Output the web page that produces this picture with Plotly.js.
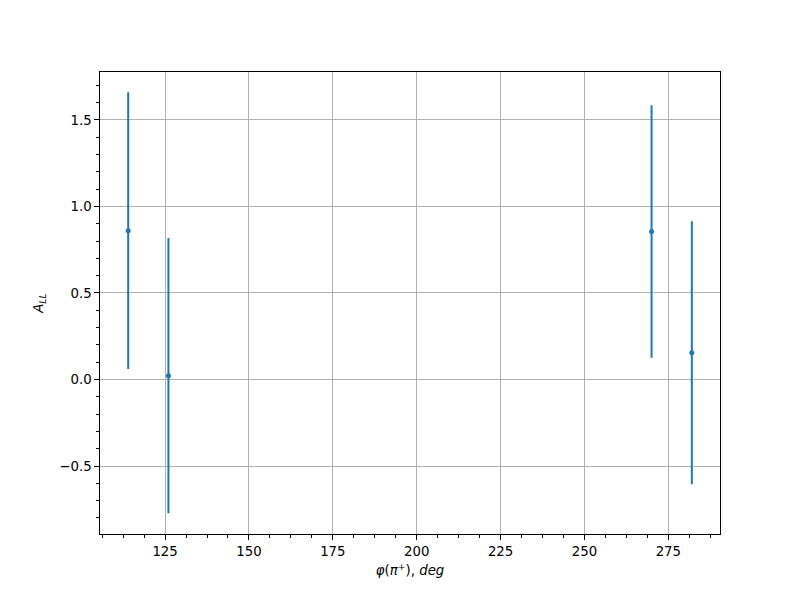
<!DOCTYPE html>
<html>
<head>
<meta charset="utf-8">
<script src="https://cdn.plot.ly/plotly-3.0.1.min.js"></script>
<style>body{margin:0;padding:0;background:#fff;} #plot{width:800px;height:600px;}</style>
</head>
<body>
<div id="plot"></div>
<script>
const phi = [114, 126, 270, 282];
const A_LL = [0.86, 0.022, 0.855, 0.155];
const A_LL_err = [0.80, 0.795, 0.73, 0.76];
const xTicks = [125, 150, 175, 200, 225, 250, 275];
const yTicks = [-0.5, 0.0, 0.5, 1.0, 1.5];

const font = {family: 'DejaVu Sans', size: 13.3, color: '#000'};
const trace = {
  x: phi, y: A_LL, type: 'scatter', mode: 'markers',
  marker: {color: '#1f77b4', size: 5},
  error_y: {type: 'data', array: A_LL_err, visible: true, color: '#1f77b4', thickness: 2, width: 0},
  showlegend: false, hoverinfo: 'none'
};
const axisCommon = {
  showline: true, linecolor: '#000', linewidth: 1, mirror: true,
  ticks: 'outside', ticklen: 4.7, tickwidth: 1, tickcolor: '#000',
  showgrid: true, gridcolor: '#b0b0b0', gridwidth: 1,
  zeroline: false, tickfont: font
};
const layout = {
  width: 800, height: 600,
  margin: {l: 100, r: 80, t: 72, b: 66},
  paper_bgcolor: '#fff', plot_bgcolor: '#fff',
  font: font,
  xaxis: Object.assign({}, axisCommon, {
    range: [105.6, 290.4], tickmode: 'array', tickvals: xTicks,
    ticktext: xTicks.map(String),
    minor: {dtick: 6.25, tick0: 100, ticks: 'outside', ticklen: 2.7, tickwidth: 1, tickcolor: '#000', showgrid: false},
    title: {text: '<i>φ</i>(<i>π</i><sup>+</sup>), <i>deg</i>', font: font, standoff: 8}
  }),
  yaxis: Object.assign({}, axisCommon, {
    range: [-0.893, 1.777], tickmode: 'array', tickvals: yTicks,
    ticktext: yTicks.map(v => (v < 0 ? '\u2212' + Math.abs(v).toFixed(1) : v.toFixed(1))),
    minor: {dtick: 0.1, tick0: 0, ticks: 'outside', ticklen: 2.7, tickwidth: 1, tickcolor: '#000', showgrid: false},
    title: {text: '<i>A</i><sub><i>LL</i></sub>', font: font, standoff: 12}
  })
};
Plotly.newPlot('plot', [trace], layout, {staticPlot: true, displayModeBar: false});
</script>
</body>
</html>
